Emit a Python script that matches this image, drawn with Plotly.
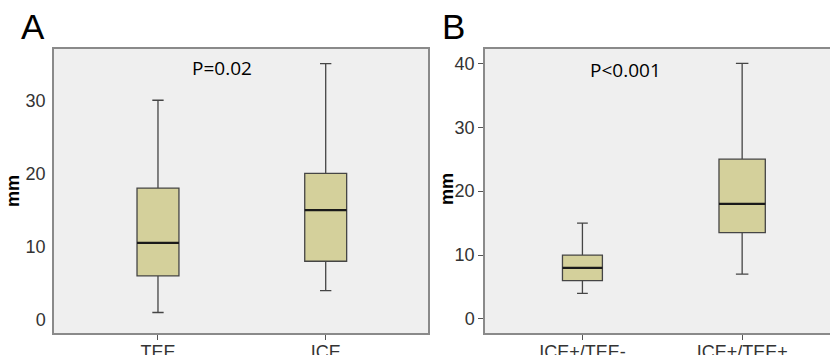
import plotly.graph_objects as go

# Panel A data (mm)
a_cats = ["TEE", "ICE"]
a_low = [1, 4]
a_q1 = [6, 8]
a_med = [10.5, 15]
a_q3 = [18, 20]
a_high = [30, 35]
a_p = "P=0.02"

# Panel B data (mm)
b_cats = ["ICE+/TEE-", "ICE+/TEE+"]
b_low = [4, 7]
b_q1 = [6, 13.5]
b_med = [8, 18]
b_q3 = [10, 25]
b_high = [15, 40]
b_p = "P<0.001"

W, H = 830, 355


def px(x):
    return x / W


def py(y):
    return 1 - y / H


FILL = "#d4d09b"
EDGE = "#454545"
BG = "#efefef"
FRAME = "#8a8a8a"
TICKFONT = dict(family="Liberation Sans, Arial", size=18, color="#333333")

fig = go.Figure()


def add_boxes(cats, low, q1, med, q3, high, xa, ya, widths):
    for i, c in enumerate(cats):
        fig.add_trace(go.Box(
            x=[c], q1=[q1[i]], median=[med[i]], q3=[q3[i]],
            lowerfence=[low[i]], upperfence=[high[i]],
            xaxis=xa, yaxis=ya, width=widths[i], whiskerwidth=0.27,
            fillcolor=FILL, line=dict(color=EDGE, width=1.3),
            boxpoints=False, showlegend=False, hoverinfo="skip",
        ))
        # thicker black median line (collapsed box at the median value)
        fig.add_trace(go.Box(
            x=[c], q1=[med[i]], median=[med[i]], q3=[med[i]],
            lowerfence=[med[i]], upperfence=[med[i]],
            xaxis=xa, yaxis=ya, width=widths[i], whiskerwidth=0,
            fillcolor="rgba(0,0,0,0)", line=dict(color="#1a1a1a", width=2.2),
            boxpoints=False, showlegend=False, hoverinfo="skip",
        ))


add_boxes(a_cats, a_low, a_q1, a_med, a_q3, a_high, "x", "y", [0.25, 0.25])
add_boxes(b_cats, b_low, b_q1, b_med, b_q3, b_high, "x2", "y2", [0.25, 0.29])

ydom = [py(333), py(49)]
common_x = dict(type="category", showgrid=False, zeroline=False, showline=True,
                linecolor=FRAME, linewidth=1.5, mirror=True, ticks="outside",
                ticklen=5, tickcolor="#555", tickfont=TICKFONT, fixedrange=True,
                automargin=False, ticklabelstandoff=-3)
common_y = dict(showgrid=False, zeroline=False, showline=True, linecolor=FRAME,
                linewidth=1.5, tickfont=TICKFONT, fixedrange=True,
                automargin=False)

fig.update_layout(
    width=W, height=H,
    margin=dict(l=0, r=0, t=0, b=0),
    paper_bgcolor="white",
    plot_bgcolor=BG,
    boxmode="overlay",
    xaxis=dict(common_x, domain=[px(54), px(428)], range=[-0.62, 1.61],
               anchor="y", categoryorder="array", categoryarray=a_cats),
    yaxis=dict(common_y, domain=ydom, range=[-1.8, 37], tickvals=[0, 10, 20, 30],
               ticks="", ticklabelstandoff=3, mirror=True, anchor="x"),
    xaxis2=dict(common_x, domain=[px(485), px(830)], range=[-0.61, 1.55],
                anchor="y2", categoryorder="array", categoryarray=b_cats),
    yaxis2=dict(common_y, domain=ydom, range=[-2.2, 42.25], tickvals=[0, 10, 20, 30, 40],
                ticks="outside", ticklen=5, tickcolor="#555", mirror=False, anchor="x2"),
    font=dict(family="Liberation Sans, Arial"),
)

fig.add_annotation(text="A", x=px(33), y=py(26), xref="paper", yref="paper",
                   showarrow=False, font=dict(family="Liberation Sans, Arial", size=35, color="black"),
                   xanchor="center", yanchor="middle")
fig.add_annotation(text="B", x=px(453), y=py(26), xref="paper", yref="paper",
                   showarrow=False, font=dict(family="Liberation Sans, Arial", size=35, color="black"),
                   xanchor="center", yanchor="middle")
fig.add_annotation(text="mm", x=px(13), y=py(191), xref="paper", yref="paper",
                   textangle=-90, showarrow=False,
                   font=dict(family="Liberation Sans, Arial", size=18, color="black", weight="bold"),
                   xanchor="center", yanchor="middle")
fig.add_annotation(text="mm", x=px(447), y=py(189), xref="paper", yref="paper",
                   textangle=-90, showarrow=False,
                   font=dict(family="Liberation Sans, Arial", size=18, color="black", weight="bold"),
                   xanchor="center", yanchor="middle")
fig.add_annotation(text=a_p, x=px(222), y=py(68), xref="paper", yref="paper",
                   showarrow=False, font=dict(family="Open Sans", size=19, color="black"),
                   xanchor="center", yanchor="middle")
fig.add_annotation(text=b_p, x=px(625), y=py(70), xref="paper", yref="paper",
                   showarrow=False, font=dict(family="Open Sans", size=19, color="black"),
                   xanchor="center", yanchor="middle")

fig.write_html("out.html", config={"displayModeBar": False},
               post_script="document.body.style.margin='0';")
